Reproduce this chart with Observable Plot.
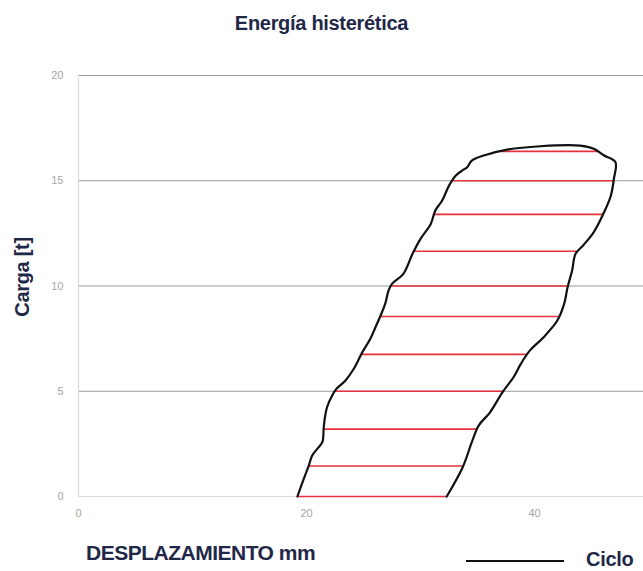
<!DOCTYPE html>
<html>
<head>
<meta charset="utf-8">
<script src="https://cdn.jsdelivr.net/npm/d3@7"></script>
<script src="https://cdn.jsdelivr.net/npm/@observablehq/plot@0.6"></script>
<style>
  html, body { margin: 0; padding: 0; background: #fff; }
  #wrap { position: relative; width: 643px; height: 571px; overflow: hidden; font-family: "Liberation Sans", Arial, sans-serif; }
  #chart { position: absolute; left: 0; top: 0; }
  .lbl { position: absolute; color: #1f2847; font-weight: bold; white-space: nowrap; line-height: 1; }
  #title { left: 0; width: 643px; top: 13px; text-align: center; font-size: 20px; letter-spacing: -0.3px; }
  #ylab { left: 22px; top: 277px; font-size: 20px; letter-spacing: -0.3px; transform: translate(-50%, -50%) rotate(-90deg); }
  #xlab { left: 86px; top: 542px; font-size: 21px; letter-spacing: -0.5px; }
  #legend { left: 466px; top: 549px; display: flex; align-items: center; font-size: 20px; letter-spacing: -0.3px; }
  #legend .sw { width: 98px; height: 0; border-top: 2.5px solid #111; margin-right: 22px; margin-top: 4px; }
</style>
</head>
<body>
<div id="wrap">
  <div id="chart"></div>
  <div class="lbl" id="title">Energía histerética</div>
  <div class="lbl" id="ylab">Carga [t]</div>
  <div class="lbl" id="xlab">DESPLAZAMIENTO mm</div>
  <div class="lbl" id="legend"><span class="sw"></span><span id="legText">Ciclo</span></div>
</div>
<script>
// ---- data ----
const xTicks = [0, 20, 40];
const yTicks = [0, 5, 10, 15, 20];
const seriesName = "Ciclo";

// Hysteresis loop (displacement mm, load t)
const loopX = [19.2, 19.7, 20.2, 20.5, 21.0, 21.4, 21.5, 21.6, 21.8, 22.25, 22.6, 23.4, 24.15, 24.9, 25.6, 26.05, 26.5, 26.9, 27.2, 27.5, 28.5, 29.3, 30.0, 30.9, 31.3, 31.9, 32.5, 33.1, 33.7, 34.1, 34.5, 35.55, 37.6, 40.5, 44.0, 45.2, 46.1, 47.1, 46.96, 46.7, 46.1, 45.2, 44.3, 43.6, 43.3, 42.9, 42.6, 42.0, 40.8, 39.6, 38.8, 38.2, 37.2, 36.1, 35.1, 34.5, 33.7, 32.3];
const loopY = [0, 0.75, 1.47, 1.95, 2.3, 2.6, 3.2, 3.7, 4.24, 4.8, 5.1, 5.5, 6.07, 6.86, 7.49, 8.04, 8.6, 9.15, 9.79, 10.1, 10.58, 11.53, 12.24, 12.95, 13.59, 14.06, 14.77, 15.25, 15.5, 15.64, 15.96, 16.2, 16.48, 16.64, 16.67, 16.52, 16.2, 15.88, 15.09, 14.3, 13.5, 12.56, 11.95, 11.53, 10.74, 9.94, 9.15, 8.36, 7.57, 6.94, 6.3, 5.7, 4.96, 4.0, 3.37, 2.58, 1.39, 0];

// Load levels of the red hatching lines
const hatchLevels = [0, 1.45, 3.2, 5.0, 6.75, 8.55, 10.0, 11.65, 13.4, 15.0, 16.4];

// ---- derived tables ----
const loop = loopX.map((x, i) => ({x, y: loopY[i], serie: seriesName}));
const closed = loop.concat([loop[0]]);
const hatch = hatchLevels.map(h => {
  const xs = [];
  for (let i = 0; i < closed.length - 1; i++) {
    const a = closed[i], b = closed[i + 1];
    if (a.y === b.y) { if (a.y === h) xs.push(a.x, b.x); continue; }
    if ((a.y - h) * (b.y - h) <= 0) {
      const t = (h - a.y) / (b.y - a.y);
      xs.push(a.x + t * (b.x - a.x));
    }
  }
  return {y: h, x1: d3.min(xs), x2: d3.max(xs)};
});

const chart = Plot.plot({
  width: 643,
  height: 571,
  marginTop: 75,
  marginBottom: 75,
  marginLeft: 78,
  marginRight: 0,
  style: {fontFamily: "'Liberation Sans', Arial, sans-serif", fontSize: "11px", color: "#a6a6a6", background: "transparent"},
  x: {domain: [0, 49.56], ticks: xTicks, tickSize: 0, tickPadding: 13, label: null},
  y: {domain: [0, 20], ticks: yTicks, tickSize: 0, tickPadding: 15, label: null},
  marks: [
    Plot.ruleY(yTicks.filter(d => d > 0), {stroke: "#9a9a9a", strokeWidth: 1.2}),
    Plot.ruleY([0], {stroke: "#dadada", strokeWidth: 1.2}),
    Plot.ruleX([0], {stroke: "#dadada", strokeWidth: 1.2}),
    Plot.link(hatch, {x1: "x1", x2: "x2", y1: "y", y2: "y", stroke: "#e5323d", strokeWidth: 1.7}),
    Plot.line(loop, {x: "x", y: "y", stroke: "#111", strokeWidth: 2.2, curve: "catmull-rom", strokeLinejoin: "round"})
  ]
});
document.getElementById("chart").appendChild(chart);
</script>
</body>
</html>
